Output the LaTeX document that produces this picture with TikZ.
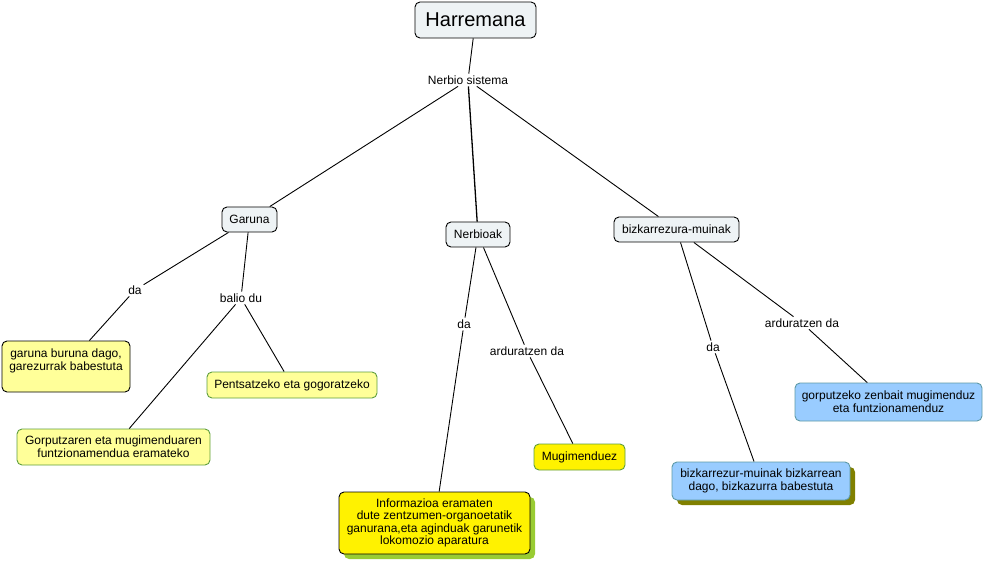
\documentclass[tikz,border=0pt]{standalone}
\usepackage{fontspec}
\setmainfont{Liberation Sans}
\usepackage{xcolor}
\usetikzlibrary{shadows}
\definecolor{conceptfill}{HTML}{EEF3F5}
\definecolor{paleyellow}{HTML}{FFFF99}
\definecolor{lightblue}{HTML}{99CCFF}
\definecolor{leafgreen}{HTML}{5E9E3E}
\definecolor{blueedge}{HTML}{5E9AA6}
\definecolor{limeshadow}{HTML}{99CC33}
\definecolor{oliveshadow}{HTML}{808000}
\tikzset{
    concept/.style={draw, rounded corners=5pt, fill=conceptfill, font=\fontsize{12}{13}\selectfont, inner sep=0pt},
    answer/.style={draw, rounded corners=5pt, align=center, font=\fontsize{12}{13}\selectfont, inner sep=0pt},
    link/.style={font=\fontsize{12}{13}\selectfont, inner sep=1.5pt},
    shade/.style={general shadow={shadow xshift=5pt, shadow yshift=-5pt, fill=#1}}
}
\begin{document}
\begin{tikzpicture}[x=1pt,y=-1pt,line width=0.9pt]
    \useasboundingbox (0,0) rectangle (985,561);
    % main concepts
    \node[concept, font=\fontsize{20}{22}\selectfont, minimum width=121pt, minimum height=36pt] (harremana) at (475.5,20) {Harremana};
    \node[concept, minimum width=55pt, minimum height=25pt] (garuna) at (249.5,219.5) {Garuna};
    \node[concept, minimum width=64pt, minimum height=25pt] (nerbioak) at (478,234.5) {Nerbioak};
    \node[concept, minimum width=125pt, minimum height=25pt] (bizkar) at (676.5,229.5) {bizkarrezura-muinak};
    % linking phrases
    \node[link] (sistema) at (468,80) {Nerbio sistema};
    \node[link] (garunada) at (135,290) {da};
    \node[link] (balio) at (241,298) {balio du};
    \node[link] (nerbioda) at (464,324) {da};
    \node[link] (nerbioard) at (527,351) {arduratzen da};
    \node[link] (bizkarda) at (713,347) {da};
    \node[link] (bizkarard) at (802,323) {arduratzen da};
    % leaves
    \node[answer, fill=paleyellow, minimum width=128pt, minimum height=51pt] (buruna) at (66,366.5) {garuna buruna dago,\\garezurrak babestuta\\\mbox{}};
    \node[answer, draw=leafgreen, fill=paleyellow, minimum width=170pt, minimum height=26pt] (pentsatu) at (292,385) {Pentsatzeko eta gogoratzeko};
    \node[answer, draw=leafgreen, fill=paleyellow, minimum width=193pt, minimum height=36pt] (gorputz) at (113.5,447) {Gorputzaren eta mugimenduaren\\funtzionamendua eramateko};
    \node[answer, fill=yellow, shade=limeshadow, minimum width=191pt, minimum height=62pt, font=\fontsize{12}{12.5}\selectfont] (informazio) at (434.5,523) {Informazioa eramaten\\dute zentzumen-organoetatik\\ganurana,eta aginduak garunetik\\lokomozio aparatura};
    \node[answer, draw=leafgreen, fill=yellow, minimum width=91pt, minimum height=26pt] (mugimendu) at (579.5,457) {Mugimenduez};
    \node[answer, draw=blueedge, fill=lightblue, minimum width=187pt, minimum height=38pt] (funtzio) at (888.5,402) {gorputzeko zenbait mugimenduz\\eta funtzionamenduz};
    \node[answer, draw=blueedge, fill=lightblue, shade=oliveshadow, minimum width=178pt, minimum height=38pt] (bizkarrean) at (761,481) {bizkarrezur-muinak bizkarrean\\dago, bizkazurra babestuta};
    % connectors
    \draw (harremana) -- (sistema);
    \draw (sistema) -- (garuna);
    \draw[line width=1.3pt] (sistema) -- (nerbioak);
    \draw (sistema) -- (bizkar);
    \draw (garuna) -- (garunada) -- (buruna);
    \draw (garuna) -- (balio);
    \draw (balio) -- (gorputz);
    \draw (balio) -- (pentsatu);
    \draw (nerbioak) -- (nerbioda) -- (informazio);
    \draw (nerbioak) -- (nerbioard) -- (mugimendu);
    \draw (bizkar) -- (bizkarda) -- (bizkarrean);
    \draw (bizkar) -- (bizkarard) -- (funtzio);
\end{tikzpicture}
\end{document}
